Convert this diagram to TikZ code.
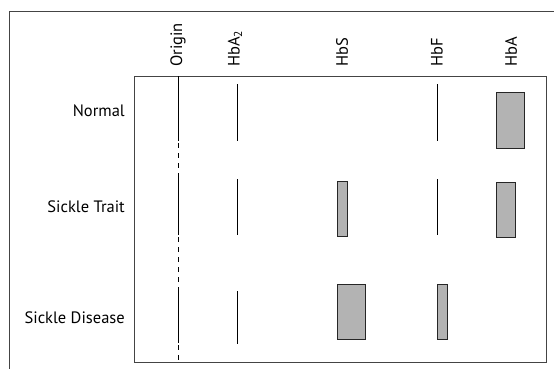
\documentclass[tikz,border=0pt]{standalone}
\usepackage{fontspec}
\setmainfont{PT Sans}
\definecolor{framec}{HTML}{444444}
\definecolor{bandfill}{HTML}{B3B3B3}
\begin{document}
\begin{tikzpicture}[x=1pt,y=-1pt,
  frameline/.style={draw=framec,line width=0.9pt},
  bandline/.style={draw=black,line width=0.9pt},
  dashline/.style={draw=black,line width=0.9pt,dash pattern=on 5pt off 5pt},
  band/.style={draw=black!85,line width=0.9pt,fill=bandfill},
  collabel/.style={rotate=90,anchor=west,inner sep=0pt,font=\fontsize{16.5}{19}\selectfont},
  rowlabel/.style={anchor=east,inner sep=0pt,font=\fontsize{16.5}{19}\selectfont}]
\useasboundingbox (0,0) rectangle (554,369);
% outer frame
\draw[frameline] (9,369) -- (9,11) -- (554,11);
% inner box
\draw[frameline] (134,76) rectangle (546,362);
% origin line
\draw[bandline] (178,76) -- (178,141);
\draw[dashline] (178,143) -- (178,178);
\draw[bandline] (178,178) -- (178,235);
\draw[dashline] (178,237) -- (178,291);
\draw[bandline] (178,291) -- (178,343);
\draw[dashline] (178,345) -- (178,362);
% HbA2 lines
\draw[bandline] (237,84) -- (237,141);
\draw[bandline] (237,179) -- (237,235);
\draw[bandline] (237,291) -- (237,344);
% HbF lines
\draw[bandline] (437,84) -- (437,141);
\draw[bandline] (437,179) -- (437,235);
% bands
\draw[band] (496,92) rectangle (524,148);
\draw[band] (337,181) rectangle (347,236);
\draw[band] (496,182) rectangle (515,237);
\draw[band] (337,284) rectangle (365,339);
\draw[band] (437,284) rectangle (447,339);
% column labels
\node[collabel] (origin) at (178,67) {Origin};
\node[collabel] (hba2) at (235,67) {HbA\textsubscript{2}};
\node[collabel] (hbs) at (342,67) {HbS};
\node[collabel] (hbf) at (437,67) {HbF};
\node[collabel] (hba) at (511,67) {HbA};
% row labels
\node[rowlabel] (normal) at (125,111) {Normal};
\node[rowlabel] (trait) at (125,207) {Sickle Trait};
\node[rowlabel] (disease) at (125,318) {Sickle Disease};
\end{tikzpicture}
\end{document}
